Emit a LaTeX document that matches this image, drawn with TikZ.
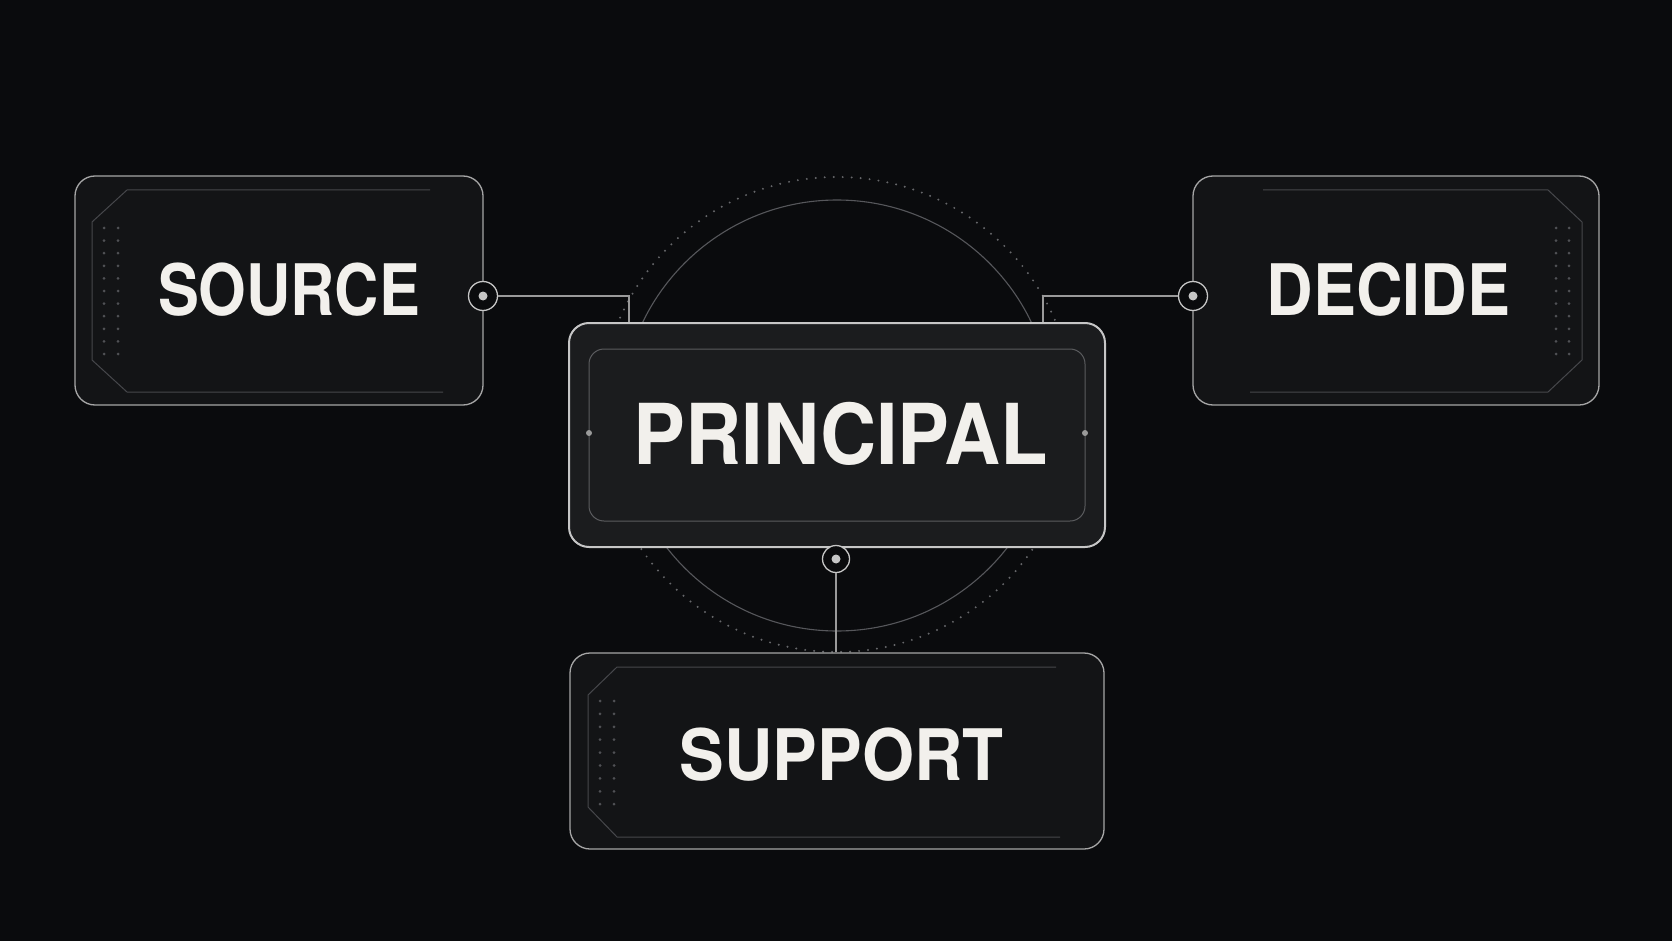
\documentclass[tikz,border=0pt]{standalone}
\usepackage{fontspec}
\setmainfont[FakeStretch=0.89]{TeX Gyre Heros}
\usepackage{xcolor}
\usepackage{tikz}
\usetikzlibrary{positioning}
\definecolor{back_dark}{HTML}{0A0B0D}
\definecolor{panel_fill}{HTML}{131416}
\definecolor{core_fill}{HTML}{1B1C1E}
\definecolor{edge_grey}{HTML}{A6A6A6}
\definecolor{core_edge}{HTML}{C6C6C6}
\definecolor{frame_grey}{HTML}{46474B}
\definecolor{inner_grey}{HTML}{5A5B5E}
\definecolor{pip_grey}{HTML}{505155}
\definecolor{link_grey}{HTML}{9A9A9A}
\definecolor{ring_grey}{HTML}{56575B}
\definecolor{dot_grey}{HTML}{66676A}
\definecolor{label_white}{HTML}{F2F0EC}

\begin{document}
\begin{tikzpicture}[x=1pt, y=-1pt,
    panel/.style={draw=edge_grey, line width=1.3pt, fill=panel_fill, rounded corners=20pt, inner sep=0pt},
    core/.style={draw=core_edge, line width=2pt, fill=core_fill, rounded corners=20pt, inner sep=0pt},
    tag/.style={text=label_white, font=\fontsize{71}{71}\selectfont\bfseries, inner sep=0pt},
    port/.style={circle, draw=core_edge, line width=1.3pt, fill=back_dark, minimum size=29pt, inner sep=0pt},
    link/.style={draw=link_grey, line width=1.2pt},
    frame/.style={draw=frame_grey, line width=1pt},
    pip/.style={fill=pip_grey}]
      % Background
      \fill[back_dark] (0,0) rectangle (1672,941);
      \useasboundingbox (0,0) rectangle (1672,941);
      % Rings behind the centre
      \draw[ring_grey, line width=1.1pt] (837,415.5) circle[radius=215.5];
      \draw[dot_grey, line width=2.2pt, dash pattern=on 0pt off 9pt, line cap=round] (837,414.5) circle[radius=237.5];
      % Boxes
      \node[panel, minimum width=408pt, minimum height=229pt] (source) at (279,290.5) {};
      \node[panel, minimum width=406pt, minimum height=229pt] (decide) at (1396,290.5) {};
      \node[core, minimum width=536pt, minimum height=224pt] (principal) at (837,435) {};
      \node[panel, minimum width=534pt, minimum height=196pt] (support) at (837,751) {};
      % Inner brackets and dots
      \draw[frame] (430,190) -- (127,190) -- (92,222) -- (92,360) -- (127,392) -- (443,392);
      \draw[frame] (1263,190) -- (1548,190) -- (1582,222) -- (1582,360) -- (1548,392) -- (1250,392);
      \draw[frame] (1056,667) -- (617,667) -- (588,695) -- (588,807) -- (617,837) -- (1060,837);
      \draw[frame, draw=inner_grey, rounded corners=15pt] (589,349) rectangle (1085,521);
      \foreach \row in {0,...,10} {
        \fill[pip] (104,228+12.6*\row) circle[radius=1.5];
        \fill[pip] (118,228+12.6*\row) circle[radius=1.5];
        \fill[pip] (1556,228+12.6*\row) circle[radius=1.5];
        \fill[pip] (1569,228+12.6*\row) circle[radius=1.5];
      }
      \foreach \row in {0,...,8} {
        \fill[pip] (600,701+12.9*\row) circle[radius=1.5];
        \fill[pip] (614,701+12.9*\row) circle[radius=1.5];
      }
      \fill[link_grey] (589,433) circle[radius=3];
      \fill[link_grey] (1085,433) circle[radius=3];
      % Ports
      \node[port] (source_port) at (483,296) {};
      \node[port] (decide_port) at (1193,296) {};
      \node[port, minimum size=27pt] (principal_port) at (836,559) {};
      \fill[core_edge] (source_port) circle[radius=4.5];
      \fill[core_edge] (decide_port) circle[radius=4.5];
      \fill[core_edge] (principal_port) circle[radius=4.5];
      % Connectors
      \coordinate (left_bend) at (629,296);
      \coordinate (right_bend) at (1043,296);
      \draw[link] (source_port) -- (left_bend) -- (left_bend |- principal.north);
      \draw[link] (decide_port) -- (right_bend) -- (right_bend |- principal.north);
      \draw[link] (principal_port) -- (principal_port |- support.north);
      % Labels
      \node[tag] (source_text) at (289,289.5) {\scalebox{0.97}[1]{SOURCE}};
      \node[tag] (decide_text) at (1388.5,289.5) {\scalebox{1.02}[1]{DECIDE}};
      \node[tag, font=\fontsize{84}{84}\selectfont\bfseries] (principal_text) at (841,434) {\scalebox{1.04}[1]{PRINCIPAL}};
      \node[tag] (support_text) at (841.5,755) {\scalebox{1.06}[1]{SUPPORT}};
    \end{tikzpicture}
\end{document}
